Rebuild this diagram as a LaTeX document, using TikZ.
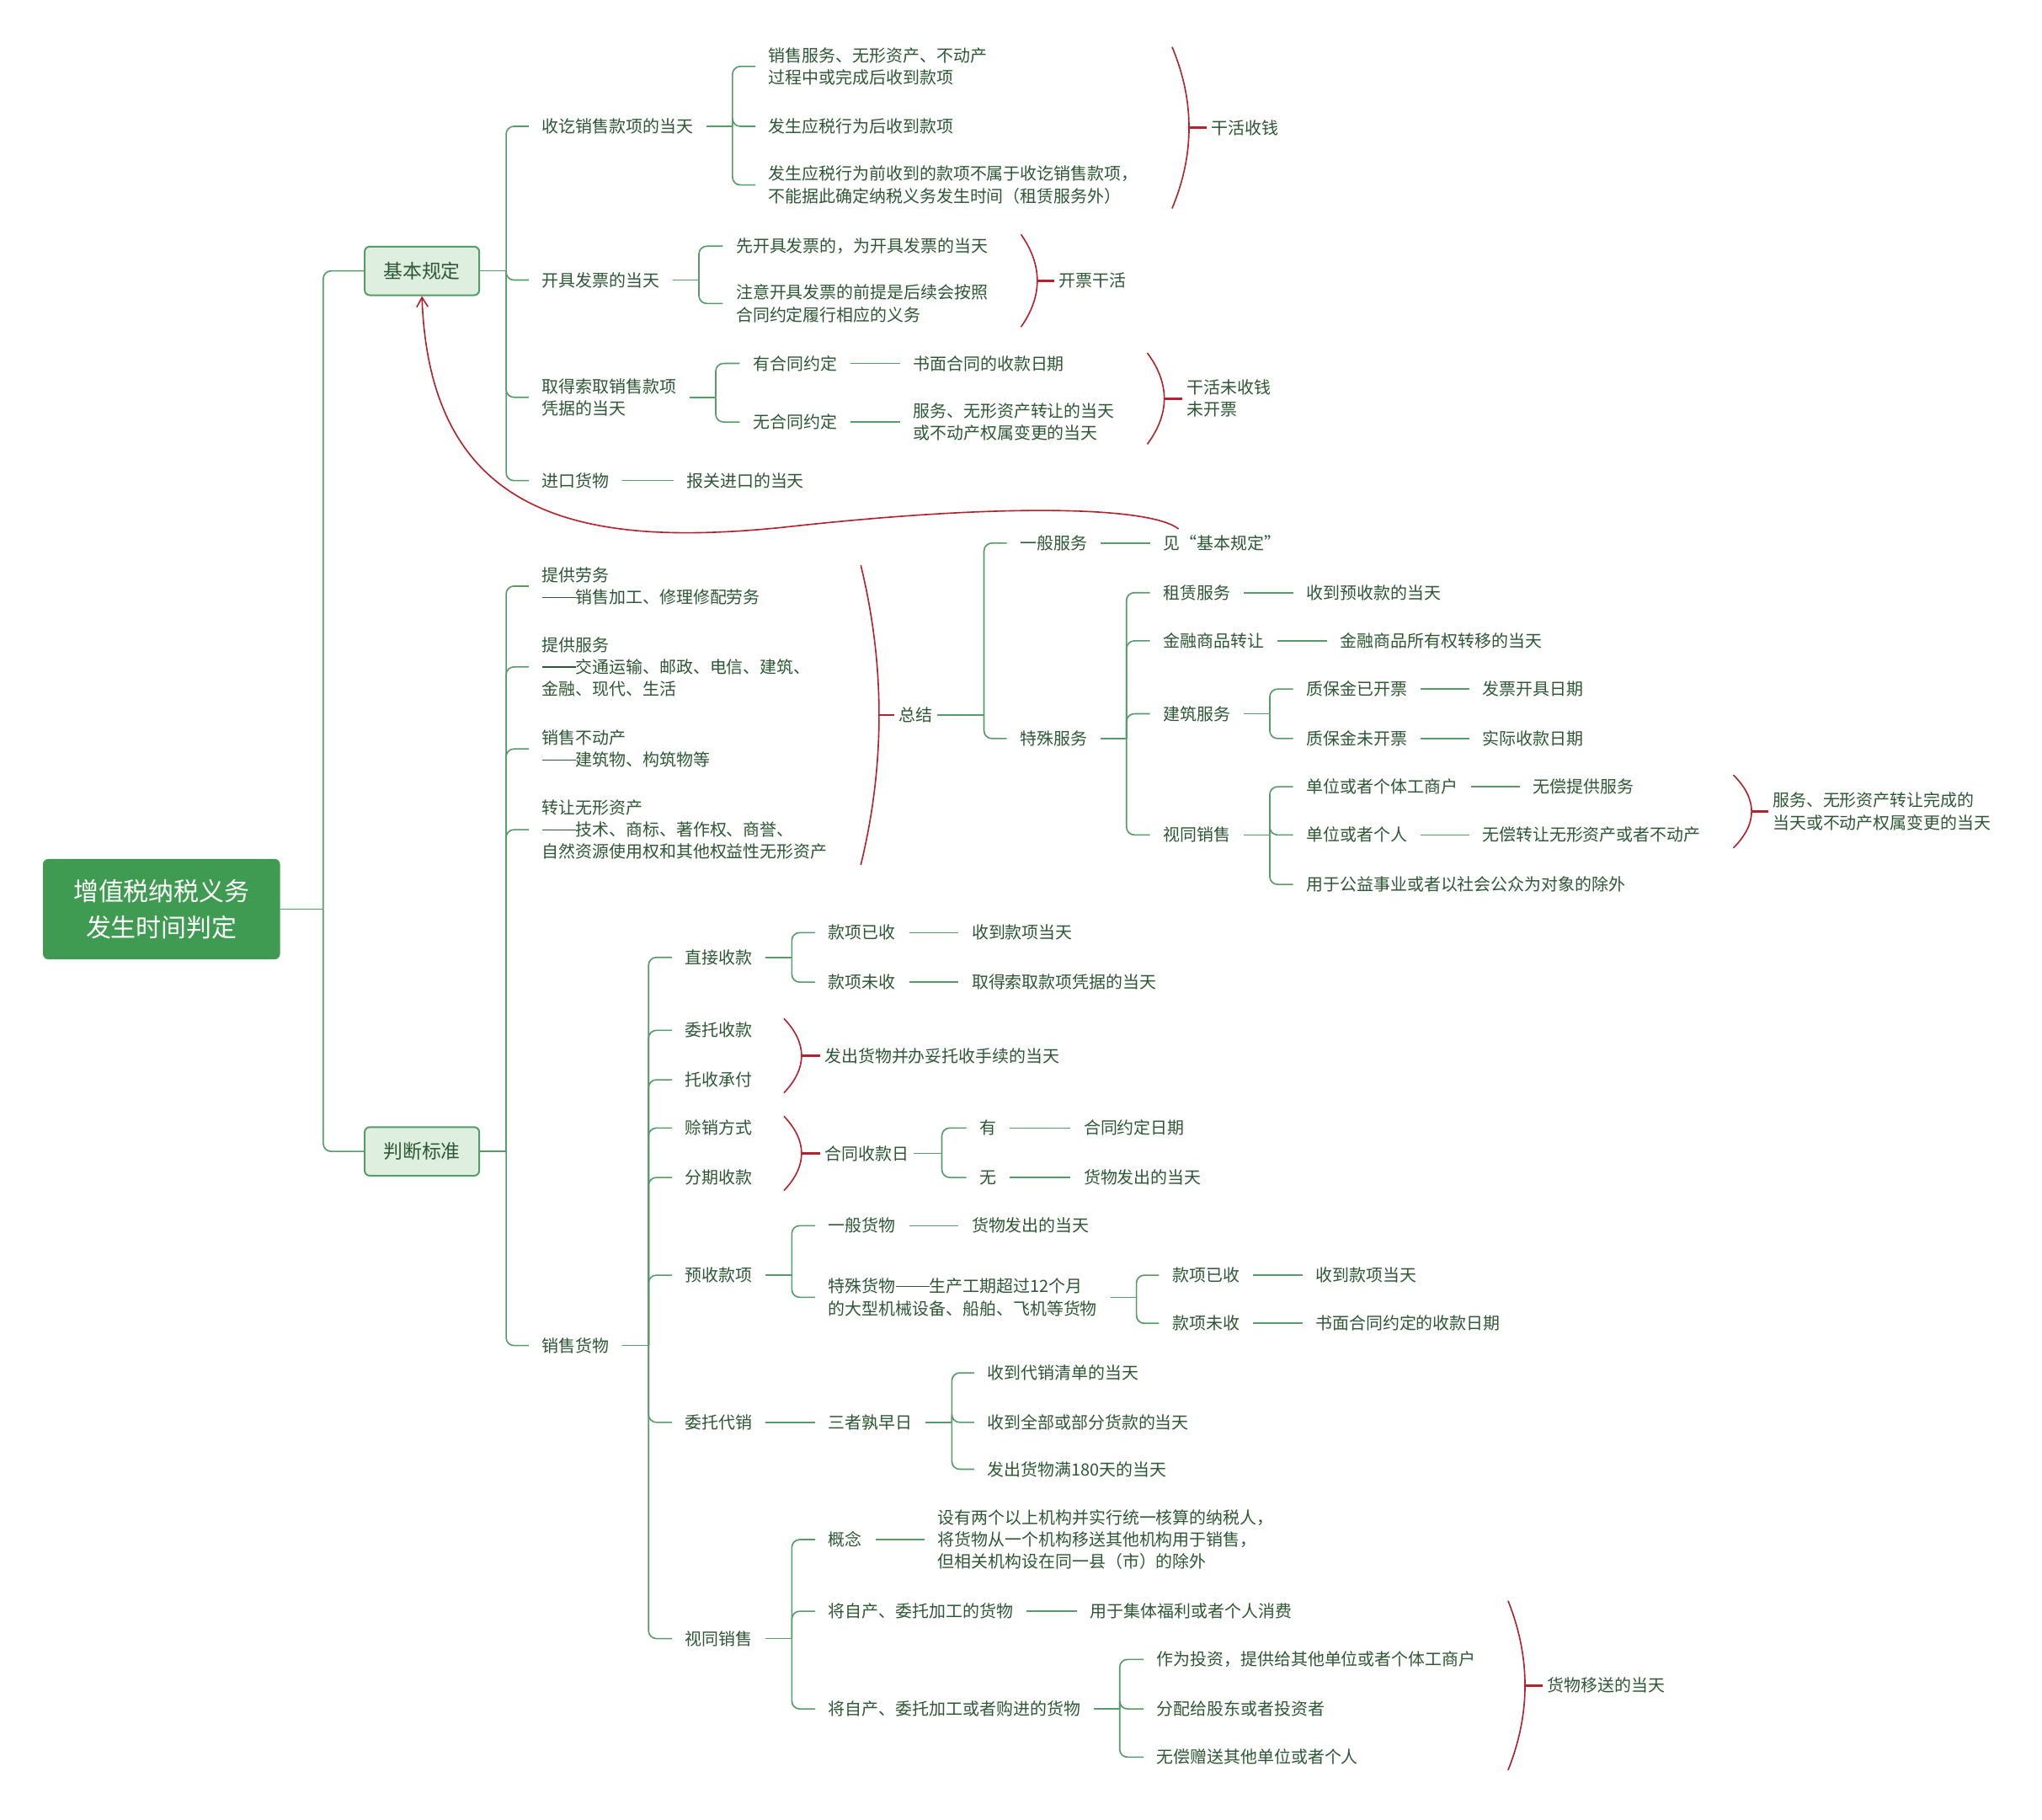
\documentclass[tikz,border=0pt]{standalone}
\usepackage{fontspec}
\setmainfont{Noto Sans CJK SC}
\usetikzlibrary{arrows.meta}

\definecolor{lnk}{RGB}{86,156,104}
\definecolor{txt}{RGB}{45,88,52}
\definecolor{rootfill}{RGB}{64,155,82}
\definecolor{boxfill}{RGB}{222,239,224}
\definecolor{brk}{RGB}{180,35,45}

\newcommand{\ldash}{\rule[0.33em]{2em}{0.07em}}

\begin{document}
\begin{tikzpicture}[x=0.3mm,y=-0.3mm,
    lbl/.style={anchor=west,inner ysep=0.5mm,align=left,text=txt,font=\fontsize{11}{14.5}\selectfont},
    topic/.style={lbl,xshift=-3mm,inner xsep=3mm},
    sumtopic/.style={lbl,xshift=-1mm,inner xsep=1mm},
    rootbox/.style={fill=rootfill,rounded corners=1.2mm,minimum width=54.6mm,minimum height=23.1mm,align=center,text=white,font=\fontsize{16.5}{23.5}\selectfont},
    catbox/.style={draw=lnk,line width=1.1pt,fill=boxfill,rounded corners=1.2mm,minimum width=26.4mm,minimum height=11.2mm,text=txt,font=\fontsize{12.6}{15}\selectfont},
    link/.style={draw=lnk,line width=0.9pt},
    sumline/.style={draw=brk,line width=0.9pt}]

    \fill[white] (0,0) rectangle (1568,1397);

    % centre and the two main branches
    \node[rootbox] (root) at (124,698) {增值税纳税义务\\发生时间判定};
    \node[catbox] (jbgd) at (324,208) {基本规定};
    \node[catbox] (pdbz) at (324,884) {判断标准};

    % basic rules
    \node[topic] (sq) at (416,97) {收讫销售款项的当天};
    \node[topic] (sq1) at (590,51) {销售服务、无形资产、不动产\\过程中或完成后收到款项};
    \node[topic] (sq2) at (590,97) {发生应税行为后收到款项};
    \node[topic] (sq3) at (590,142) {发生应税行为前收到的款项不属于收讫销售款项，\\不能据此确定纳税义务发生时间（租赁服务外）};
    \node[sumtopic] (gh1) at (930,98) {干活收钱};

    \node[topic] (kj) at (416,215) {开具发票的当天};
    \node[topic] (kj1) at (565,189) {先开具发票的，为开具发票的当天};
    \node[topic] (kj2) at (565,233) {注意开具发票的前提是后续会按照\\合同约定履行相应的义务};
    \node[sumtopic] (gh2) at (813,215.5) {开票干活};

    \node[topic] (qd) at (416,305) {取得索取销售款项\\凭据的当天};
    \node[topic] (qd1) at (578,279) {有合同约定};
    \node[topic] (qd1r) at (701,279) {书面合同的收款日期};
    \node[topic] (qd2) at (578,324) {无合同约定};
    \node[topic] (qd2r) at (701,324) {服务、无形资产转让的当天\\或不动产权属变更的当天};
    \node[sumtopic] (gh3) at (911,306) {干活未收钱\\未开票};

    \node[topic] (jk) at (416,369) {进口货物};
    \node[topic] (jkr) at (527,369) {报关进口的当天};

    % services
    \node[topic] (lw) at (416,450) {提供劳务\\\ldash 销售加工、修理修配劳务};
    \node[topic] (fw) at (416,512) {提供服务\\\ldash 交通运输、邮政、电信、建筑、\\金融、现代、生活};
    \node[topic] (bdc) at (416,575) {销售不动产\\\ldash 建筑物、构筑物等};
    \node[topic] (wx) at (416,637) {转让无形资产\\\ldash 技术、商标、著作权、商誉、\\自然资源使用权和其他权益性无形资产};
    \node[sumtopic] (zj) at (690,549) {总结};

    \node[topic] (ybfw) at (783,417) {一般服务};
    \node[topic] (jian) at (893,417) {见“基本规定”};
    \node[topic] (tsfw) at (783,567) {特殊服务};
    \node[topic] (zl) at (893,455) {租赁服务};
    \node[topic] (zlr) at (1003,455) {收到预收款的当天};
    \node[topic] (jr) at (893,492) {金融商品转让};
    \node[topic] (jrr) at (1029,492) {金融商品所有权转移的当天};
    \node[topic] (jz) at (893,548) {建筑服务};
    \node[topic] (jz1) at (1003,529) {质保金已开票};
    \node[topic] (jz1r) at (1138,529) {发票开具日期};
    \node[topic] (jz2) at (1003,567) {质保金未开票};
    \node[topic] (jz2r) at (1138,567) {实际收款日期};
    \node[topic] (st) at (893,641) {视同销售};
    \node[topic] (st1) at (1003,604) {单位或者个体工商户};
    \node[topic] (st1r) at (1177,604) {无偿提供服务};
    \node[topic] (st2) at (1003,641) {单位或者个人};
    \node[topic] (st2r) at (1138,641) {无偿转让无形资产或者不动产};
    \node[topic] (st3) at (1003,679) {用于公益事业或者以社会公众为对象的除外};
    \node[sumtopic] (stsum) at (1361,623) {服务、无形资产转让完成的\\当天或不动产权属变更的当天};

    % goods
    \node[topic] (xh) at (416,1033) {销售货物};
    \node[topic] (zs) at (526,735) {直接收款};
    \node[topic] (zs1) at (636,716) {款项已收};
    \node[topic] (zs1r) at (746,716) {收到款项当天};
    \node[topic] (zs2) at (636,754) {款项未收};
    \node[topic] (zs2r) at (746,754) {取得索取款项凭据的当天};
    \node[topic] (wt) at (526,791) {委托收款};
    \node[topic] (ts) at (526,829) {托收承付};
    \node[sumtopic] (fc) at (633,810.5) {发出货物并办妥托收手续的当天};
    \node[topic] (sx) at (526,866) {赊销方式};
    \node[topic] (fq) at (526,904) {分期收款};
    \node[sumtopic] (ht) at (633,885.5) {合同收款日};
    \node[topic] (ht1) at (752,866) {有};
    \node[topic] (ht1r) at (832,866) {合同约定日期};
    \node[topic] (ht2) at (752,904) {无};
    \node[topic] (ht2r) at (832,904) {货物发出的当天};
    \node[topic] (ys) at (526,979) {预收款项};
    \node[topic] (ys1) at (636,941) {一般货物};
    \node[topic] (ys1r) at (746,941) {货物发出的当天};
    \node[topic] (ys2) at (636,996) {特殊货物\ldash 生产工期超过12个月\\的大型机械设备、船舶、飞机等货物};
    \node[topic] (ys21) at (900,979) {款项已收};
    \node[topic] (ys21r) at (1010,979) {收到款项当天};
    \node[topic] (ys22) at (900,1016) {款项未收};
    \node[topic] (ys22r) at (1010,1016) {书面合同约定的收款日期};
    \node[topic] (dx) at (526,1092) {委托代销};
    \node[topic] (sz) at (636,1092) {三者孰早日};
    \node[topic] (sz1) at (758,1054) {收到代销清单的当天};
    \node[topic] (sz2) at (758,1092) {收到全部或部分货款的当天};
    \node[topic] (sz3) at (758,1128) {发出货物满180天的当天};
    \node[topic] (tx) at (526,1258) {视同销售};
    \node[topic] (gn) at (636,1182) {概念};
    \node[topic] (gnr) at (720,1182) {设有两个以上机构并实行统一核算的纳税人，\\将货物从一个机构移送其他机构用于销售，\\但相关机构设在同一县（市）的除外};
    \node[topic] (zc1) at (636,1237) {将自产、委托加工的货物};
    \node[topic] (zc1r) at (837,1237) {用于集体福利或者个人消费};
    \node[topic] (zc2) at (636,1312) {将自产、委托加工或者购进的货物};
    \node[topic] (zc21) at (888,1274) {作为投资，提供给其他单位或者个体工商户};
    \node[topic] (zc22) at (888,1312) {分配给股东或者投资者};
    \node[topic] (zc23) at (888,1349) {无偿赠送其他单位或者个人};
    \node[sumtopic] (yssum) at (1188,1294) {货物移送的当天};

    % elbow connectors
    \foreach \p/\d/\cs in {root/33/{jbgd,pdbz}, jbgd/20/{sq,kj,qd,jk}, sq/20/{sq1,sq2,sq3},
        kj/20/{kj1,kj2}, qd/20/{qd1,qd2}, pdbz/20/{lw,fw,bdc,wx,xh}, zj/36/{ybfw,tsfw},
        tsfw/20/{zl,jr,jz,st}, jz/20/{jz1,jz2}, st/20/{st1,st2,st3},
        xh/20/{zs,wt,ts,sx,fq,ys,dx,tx}, zs/20/{zs1,zs2}, ht/22/{ht1,ht2}, ys/20/{ys1,ys2},
        ys2/20/{ys21,ys22}, sz/20/{sz1,sz2,sz3}, tx/20/{gn,zc1,zc2}, zc2/20/{zc21,zc22,zc23}}{
        \draw[link] (\p.east) -- ++(\d,0) coordinate (j);
        \foreach \q in \cs \draw[link,rounded corners=1.8mm] (j) |- (\q.west);
    }

    % straight connectors
    \foreach \a/\b in {qd1/qd1r, qd2/qd2r, jk/jkr, ybfw/jian, zl/zlr, jr/jrr, jz1/jz1r, jz2/jz2r,
        st1/st1r, st2/st2r, zs1/zs1r, zs2/zs2r, ht1/ht1r, ht2/ht2r, ys1/ys1r, ys21/ys21r,
        ys22/ys22r, dx/sz, gn/gnr, zc1/zc1r}
        \draw[link] (\a.east) -- (\b.west);

    % summary brackets
    \foreach \bx/\ya/\yb/\s/\nm in {900/36/160/13/gh1, 784/180/251/12.5/gh2, 881/271/341/13/gh3,
        661/434/664/14/zj, 1331/595/651/14/stsum, 602/782/839/13.5/fc, 602/857/914/13.5/ht,
        1158/1229/1359/13/yssum}{
        \pgfmathsetmacro\bh{(\yb-\ya)/3}
        \pgfmathsetmacro\bc{4*\s/3}
        \pgfmathsetmacro\bmid{(\ya+\yb)/2}
        \draw[sumline] (\bx,\ya) .. controls +(\bc,\bh) and +(\bc,-\bh) .. (\bx,\yb);
        \draw[sumline,line width=1.5pt] (\bx+\s,\bmid) -- (\nm.west);
    }

    % back reference to the basic rules
    \draw[sumline,-{Straight Barb[length=2.2mm,width=2.6mm]}] ([xshift=6.6mm,yshift=0.9mm]jian.north west)
        .. controls (885,390) and (780,385) .. (600,405)
        .. controls (450,420) and (330,400) .. (jbgd.south);
\end{tikzpicture}
\end{document}
